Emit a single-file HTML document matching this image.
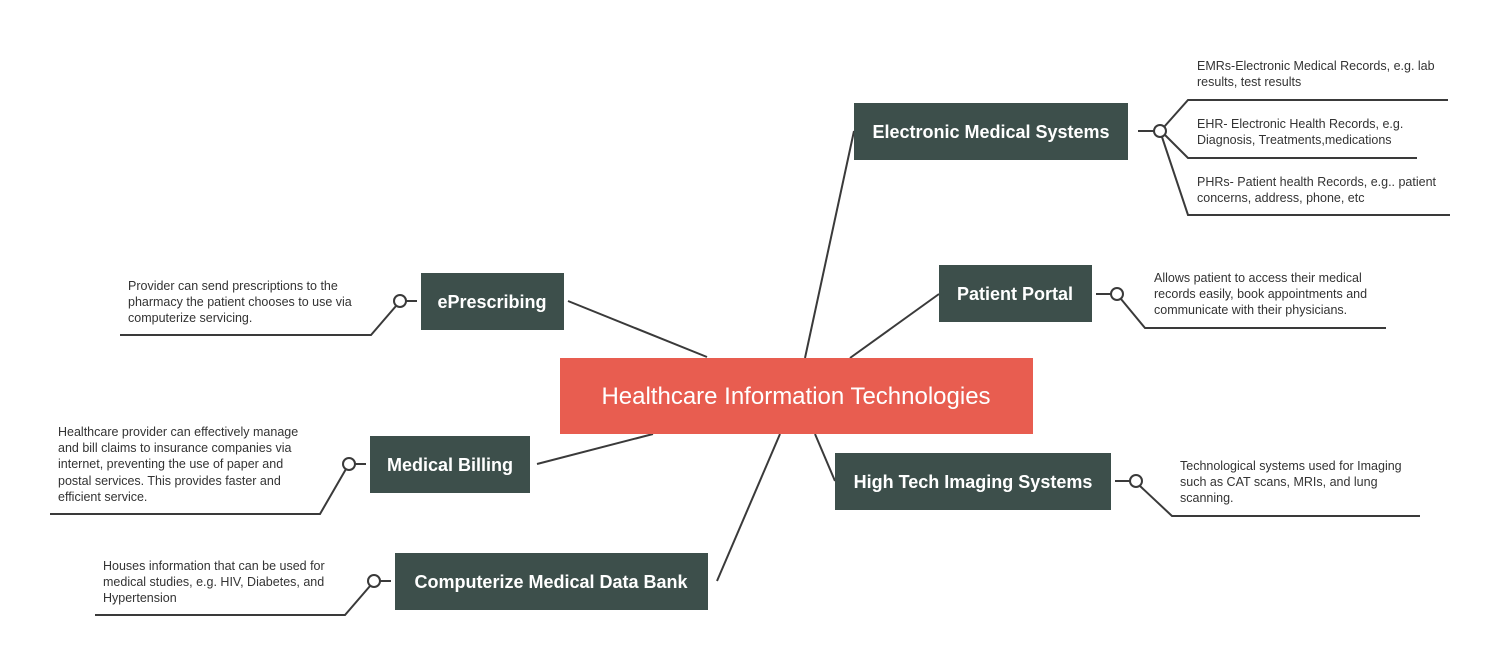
<!DOCTYPE html>
<html><head><meta charset="utf-8"><style>
body{margin:0;background:#fff;width:1500px;height:664px;overflow:hidden}
svg{display:block;font-family:"Liberation Sans",sans-serif}
.n{fill:#3d4f4b}
.t{fill:#fff;font-weight:bold;font-size:18px;text-anchor:middle}
.s{fill:#333;font-size:12.5px}
line,polyline{stroke:#3a3a3a;stroke-width:2;fill:none}
circle{stroke:#3a3a3a;stroke-width:2;fill:#fff}
</style></head><body>
<svg width="1500" height="664" viewBox="0 0 1500 664">
<line x1="805" y1="358" x2="854" y2="131"/>
<line x1="850" y1="358" x2="939" y2="294"/>
<line x1="815" y1="434" x2="835" y2="481"/>
<line x1="707" y1="357" x2="568" y2="301"/>
<line x1="653" y1="434" x2="537" y2="464"/>
<line x1="780" y1="434" x2="717" y2="581"/>
<rect x="560" y="358" width="473" height="76" fill="#e85d50"/>
<text x="796" y="404" fill="#fff" font-size="24" text-anchor="middle">Healthcare Information Technologies</text>

<rect class="n" x="854" y="103" width="274" height="57"/><text class="t" x="991" y="138">Electronic Medical Systems</text>
<rect class="n" x="939" y="265" width="153" height="57"/><text class="t" x="1015" y="300">Patient Portal</text>
<rect class="n" x="835" y="453" width="276" height="57"/><text class="t" x="973" y="488">High Tech Imaging Systems</text>
<rect class="n" x="421" y="273" width="143" height="57"/><text class="t" x="492" y="308">ePrescribing</text>
<rect class="n" x="370" y="436" width="160" height="57"/><text class="t" x="450" y="471">Medical Billing</text>
<rect class="n" x="395" y="553" width="313" height="57"/><text class="t" x="551" y="588">Computerize Medical Data Bank</text>

<line x1="1138" y1="131" x2="1154" y2="131"/>
<polyline points="1164,127 1188,100 1448,100"/>
<polyline points="1165,135 1188,158 1417,158"/>
<polyline points="1162,137 1188,215 1450,215"/>
<circle cx="1160" cy="131" r="6"/>
<text class="s" x="1197" y="70">EMRs-Electronic Medical Records, e.g. lab</text>
<text class="s" x="1197" y="86">results, test results</text>
<text class="s" x="1197" y="128">EHR- Electronic Health Records, e.g.</text>
<text class="s" x="1197" y="144">Diagnosis, Treatments,medications</text>
<text class="s" x="1197" y="186">PHRs- Patient health Records, e.g.. patient</text>
<text class="s" x="1197" y="202">concerns, address, phone, etc</text>

<line x1="1096" y1="294" x2="1111" y2="294"/>
<polyline points="1121,299 1145,328 1386,328"/>
<circle cx="1117" cy="294" r="6"/>
<text class="s" x="1154" y="282">Allows patient to access their medical</text>
<text class="s" x="1154" y="298">records easily, book appointments and</text>
<text class="s" x="1154" y="314">communicate with their physicians.</text>

<line x1="1115" y1="481" x2="1130" y2="481"/>
<polyline points="1140,486 1172,516 1420,516"/>
<circle cx="1136" cy="481" r="6"/>
<text class="s" x="1180" y="470">Technological systems used for Imaging</text>
<text class="s" x="1180" y="486">such as CAT scans, MRIs, and lung</text>
<text class="s" x="1180" y="502">scanning.</text>

<line x1="417" y1="301" x2="406" y2="301"/>
<polyline points="396,306 371,335 120,335"/>
<circle cx="400" cy="301" r="6"/>
<text class="s" x="128" y="290">Provider can send prescriptions to the</text>
<text class="s" x="128" y="306">pharmacy the patient chooses to use via</text>
<text class="s" x="128" y="322">computerize servicing.</text>

<line x1="366" y1="464" x2="355" y2="464"/>
<polyline points="346,469 320,514 50,514"/>
<circle cx="349" cy="464" r="6"/>
<text class="s" x="58" y="436">Healthcare provider can effectively manage</text>
<text class="s" x="58" y="452">and bill claims to insurance companies via</text>
<text class="s" x="58" y="468">internet, preventing the use of paper and</text>
<text class="s" x="58" y="485">postal services. This provides faster and</text>
<text class="s" x="58" y="501">efficient service.</text>

<line x1="391" y1="581" x2="380" y2="581"/>
<polyline points="370,586 345,615 95,615"/>
<circle cx="374" cy="581" r="6"/>
<text class="s" x="103" y="570">Houses information that can be used for</text>
<text class="s" x="103" y="586">medical studies, e.g. HIV, Diabetes, and</text>
<text class="s" x="103" y="602">Hypertension</text>
</svg>
</body></html>
